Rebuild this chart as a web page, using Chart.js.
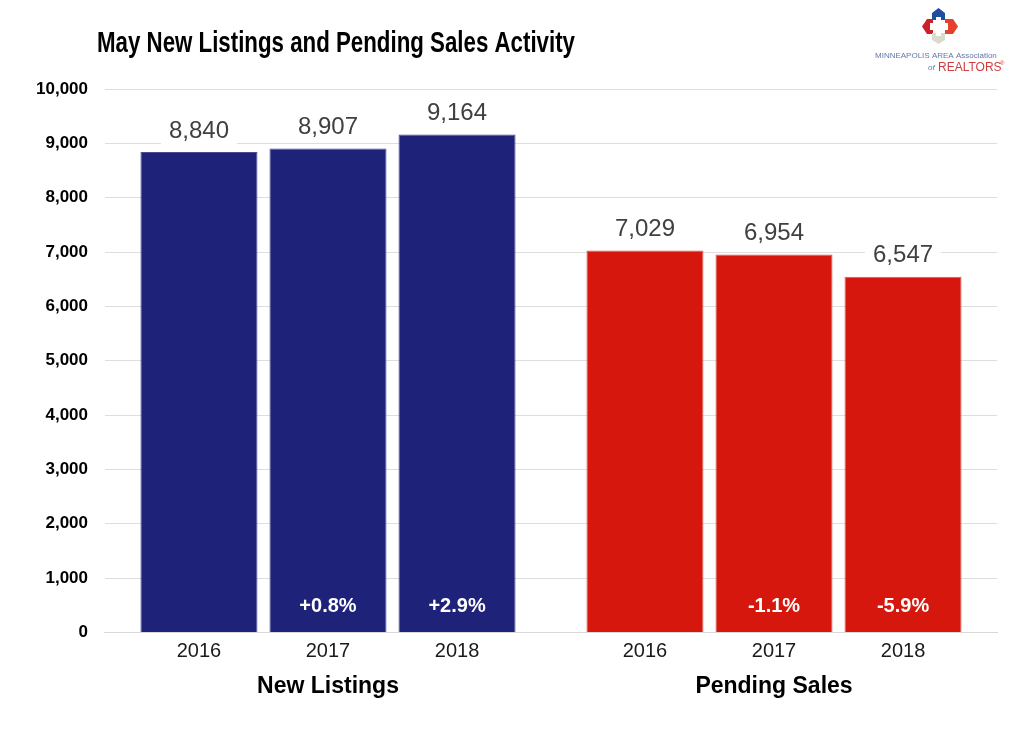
<!DOCTYPE html>
<html>
<head>
<meta charset="utf-8">
<script src="https://cdn.jsdelivr.net/npm/chart.js@4.4.0/dist/chart.umd.min.js"></script>
<style>
  html, body { margin: 0; padding: 0; background: #fff; }
  #wrap { width: 1024px; height: 744px; position: relative; }
</style>
</head>
<body>
<div id="wrap"><canvas id="chart" width="1024" height="744"></canvas></div>
<script>
const categories = ["New Listings", "Pending Sales"];
const years = ["2016", "2017", "2018"];
const newListings = [8840, 8907, 9164];
const pendingSales = [7029, 6954, 6547];
const newListingsChange = ["", "+0.8%", "+2.9%"];
const pendingSalesChange = ["", "-1.1%", "-5.9%"];
const yTicks = [0, 1000, 2000, 3000, 4000, 5000, 6000, 7000, 8000, 9000, 10000];

const navy = "#1f2279";
const red = "#d5170d";
const fmt = v => v.toLocaleString("en-US");

const datasets = years.map((yr, i) => ({
  label: yr,
  data: [newListings[i], pendingSales[i]],
  change: [newListingsChange[i], pendingSalesChange[i]],
  backgroundColor: [navy, red],
  borderColor: ["#4a4d96", "#e05a52"],
  borderWidth: 1,
  barPercentage: 0.907,
  categoryPercentage: 0.868
}));

// title, logo, value labels, change labels and year labels
const decor = {
  id: "decor",
  afterDatasetsDraw(chart) {
    const c = chart.ctx;
    c.save();
    chart.data.datasets.forEach((ds, di) => {
      const meta = chart.getDatasetMeta(di);
      meta.data.forEach((bar, i) => {
        // value above the bar
        c.font = "24px Arial, 'Liberation Sans', sans-serif";
        const txt = fmt(ds.data[i]);
        const w = c.measureText(txt).width;
        const ty = bar.y - 21;
        c.fillStyle = "#fff";
        c.fillRect(bar.x - w / 2 - 8, ty - 13, w + 16, 26);
        c.fillStyle = "#404040";
        c.textAlign = "center";
        c.textBaseline = "middle";
        c.fillText(txt, bar.x, ty);
        // change inside bar
        if (ds.change[i]) {
          c.font = "bold 20px Arial, 'Liberation Sans', sans-serif";
          c.fillStyle = "#fff";
          c.fillText(ds.change[i], bar.x, bar.base - 25);
        }
        // year below axis
        c.font = "20px Arial, 'Liberation Sans', sans-serif";
        c.fillStyle = "#1a1a1a";
        c.fillText(ds.label, bar.x, bar.base + 20);
      });
    });
    c.restore();
  },
  afterDraw(chart) {
    const c = chart.ctx;
    c.save();
    c.font = "bold 30px Arial, 'Liberation Sans', sans-serif";
    c.fillStyle = "#000";
    c.textAlign = "left";
    c.textBaseline = "alphabetic";
    const title = "May New Listings and Pending Sales Activity";
    const tw = c.measureText(title).width;
    c.translate(97, 52);
    c.scale(478 / tw, 1);
    c.fillText(title, 0, 0);
    c.setTransform(1, 0, 0, 1, 0, 0);

    // logo
    c.fillStyle = "#1f4ea1";
    c.beginPath();
    c.moveTo(938.5, 8); c.lineTo(945, 13); c.lineTo(945, 20); c.lineTo(941, 20);
    c.lineTo(941, 17); c.lineTo(936, 17); c.lineTo(936, 20); c.lineTo(932, 20); c.lineTo(932, 13);
    c.closePath(); c.fill();
    c.fillStyle = "#c8232b";
    c.beginPath();
    c.moveTo(922, 26.5); c.lineTo(927, 19); c.lineTo(933, 19); c.lineTo(933, 23); c.lineTo(930, 23);
    c.lineTo(930, 30); c.lineTo(933, 30); c.lineTo(933, 34); c.lineTo(927, 34);
    c.closePath(); c.fill();
    c.fillStyle = "#e6402e";
    c.beginPath();
    c.moveTo(958, 26.5); c.lineTo(953, 19); c.lineTo(945, 19); c.lineTo(945, 23); c.lineTo(948, 23);
    c.lineTo(948, 30); c.lineTo(945, 30); c.lineTo(945, 34); c.lineTo(953, 34);
    c.closePath(); c.fill();
    c.fillStyle = "#d9dccd";
    c.beginPath();
    c.moveTo(932, 33); c.lineTo(936, 33); c.lineTo(936, 36); c.lineTo(941, 36); c.lineTo(941, 33);
    c.lineTo(945, 33); c.lineTo(945, 40); c.lineTo(938.5, 44); c.lineTo(932, 40);
    c.closePath(); c.fill();
    c.font = "8px Arial, sans-serif";
    c.fillStyle = "#6477a8";
    c.fillText("MINNEAPOLIS AREA Association", 875, 58);
    c.font = "italic 8px Arial, sans-serif";
    c.fillText("of", 928, 70);
    c.font = "12px Arial, sans-serif";
    c.fillStyle = "#cf3b3f";
    c.fillText("REALTORS", 938, 71);
    c.font = "6px Arial, sans-serif";
    c.fillText("®", 1000, 65);
    c.restore();
  }
};

new Chart(document.getElementById("chart"), {
  type: "bar",
  data: { labels: categories, datasets },
  options: {
    responsive: false,
    animation: false,
    layout: { padding: { left: 19, right: 27, top: 89, bottom: 4 } },
    plugins: {
      legend: { display: false },
      tooltip: { enabled: false },
      title: { display: false }
    },
    scales: {
      x: {
        grid: { display: false, drawTicks: false },
        border: { display: true, color: "#d9d9d9", width: 1 },
        ticks: {
          padding: 40,
          color: "#000",
          font: { family: "Arial, 'Liberation Sans', sans-serif", size: 23, weight: "bold" }
        }
      },
      y: {
        min: 0,
        max: 10000,
        afterBuildTicks: axis => { axis.ticks = yTicks.map(v => ({ value: v })); },
        grid: { color: "#dedede", lineWidth: 1, drawTicks: false },
        border: { display: false },
        ticks: {
          padding: 17,
          color: "#000",
          font: { family: "Arial, 'Liberation Sans', sans-serif", size: 17, weight: "bold" },
          callback: v => fmt(v)
        }
      }
    }
  },
  plugins: [decor]
});
</script>
</body>
</html>
